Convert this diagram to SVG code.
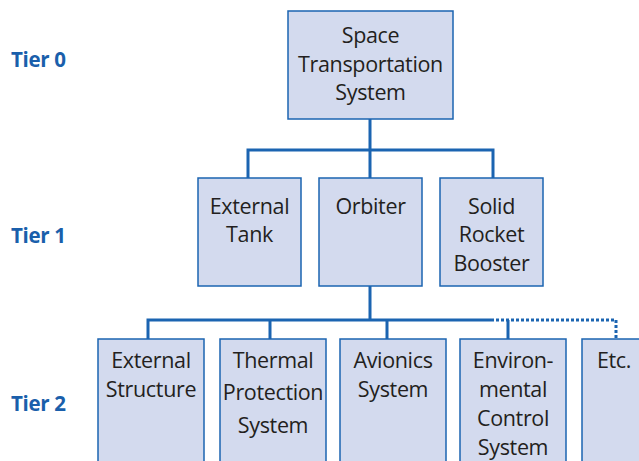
<svg xmlns="http://www.w3.org/2000/svg" width="639" height="461" viewBox="0 0 639 461">
<style>
.box{fill:#d3daee;stroke:#1b64b1;stroke-width:1.5}
.t{font-family:"Open Sans","Noto Sans",sans-serif;font-size:21.5px;fill:#231f20;text-anchor:middle;letter-spacing:-0.35px}
.tier{font-family:"Open Sans","Noto Sans",sans-serif;font-size:20.5px;font-weight:bold;fill:#1a5fab;letter-spacing:-0.3px}
.ln{stroke:#1b64b1;stroke-width:3;fill:none}
.dot{stroke:#1b64b1;stroke-width:3;fill:none;stroke-dasharray:3 2}
</style>
<rect width="639" height="461" fill="#fff"/>
<g id="tiers">
<text class="tier" x="11" y="67">Tier 0</text>
<text class="tier" x="11" y="243">Tier 1</text>
<text class="tier" x="11" y="411">Tier 2</text>
</g>
<g id="connectors">
<path class="ln" d="M370 119V178M248 178V150H493V178M370 286V320M148 339V320H491M270 320V339M387 320V339M508 320V339"/>
<path class="dot" d="M491 320H616V339"/>
</g>
<g id="sts"><rect class="box" x="288" y="11" width="165" height="108"/>
<text class="t"><tspan x="370.5" y="43">Space</tspan><tspan x="370.5" y="72">Transportation</tspan><tspan x="370.5" y="100">System</tspan></text></g>
<g id="et"><rect class="box" x="198" y="178" width="103" height="108"/>
<text class="t"><tspan x="249.5" y="214">External</tspan><tspan x="249.5" y="242">Tank</tspan></text></g>
<g id="orbiter"><rect class="box" x="319" y="178" width="103" height="108"/>
<text class="t"><tspan x="370.5" y="214">Orbiter</tspan></text></g>
<g id="srb"><rect class="box" x="440" y="178" width="103" height="108"/>
<text class="t"><tspan x="491.5" y="214">Solid</tspan><tspan x="491.5" y="242">Rocket</tspan><tspan x="491.5" y="271">Booster</tspan></text></g>
<g id="es"><rect class="box" x="98" y="339" width="106" height="130"/>
<text class="t"><tspan x="151" y="368">External</tspan><tspan x="151" y="397">Structure</tspan></text></g>
<g id="tps"><rect class="box" x="220" y="339" width="106" height="130"/>
<text class="t"><tspan x="273" y="368">Thermal</tspan><tspan x="273" y="400">Protection</tspan><tspan x="273" y="433">System</tspan></text></g>
<g id="av"><rect class="box" x="340" y="339" width="106" height="130"/>
<text class="t"><tspan x="393" y="368">Avionics</tspan><tspan x="393" y="397">System</tspan></text></g>
<g id="ecs"><rect class="box" x="460" y="339" width="106" height="130"/>
<text class="t"><tspan x="513" y="368">Environ-</tspan><tspan x="513" y="397">mental</tspan><tspan x="513" y="426">Control</tspan><tspan x="513" y="455">System</tspan></text></g>
<g id="etc"><rect class="box" x="582" y="339" width="106" height="130"/>
<text class="t"><tspan x="614" y="368">Etc.</tspan></text></g>
</svg>
